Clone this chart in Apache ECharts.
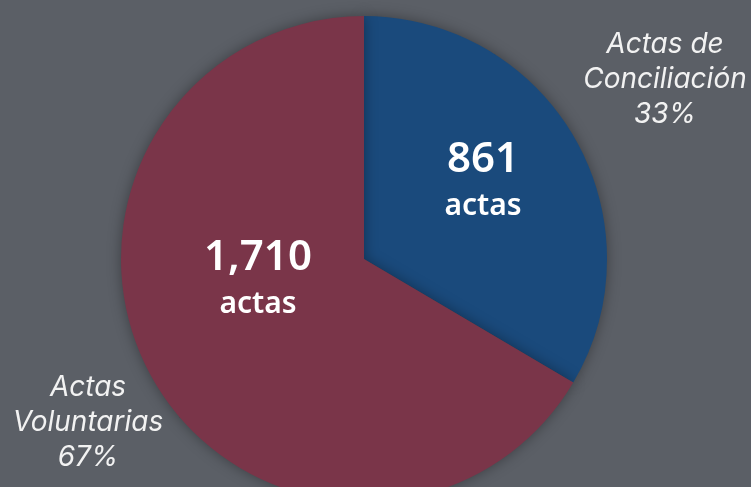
<!DOCTYPE html>
<html>
<head>
<meta charset="utf-8">
<script src="https://cdn.jsdelivr.net/npm/echarts@6/dist/echarts.min.js"></script>
<style>
html, body { margin: 0; padding: 0; background: #5b5f66; }
#main { width: 751px; height: 487px; }
</style>
</head>
<body>
<div id="main"></div>
<script>
// datos
var categorias = ['Actas de\nConciliación', 'Actas\nVoluntarias'];
var valores = [861, 1710];
var valoresTexto = ['861', '1,710'];
var porcentajes = ['33%', '67%'];
var colores = ['#1a4a7c', '#7a3549'];

// posiciones de las etiquetas
var posInterior = [[483, 180], [258, 278]];
var posExterior = [[665, 80], [88, 423]];

var chart = echarts.init(document.getElementById('main'));

var datos = categorias.map(function (c, i) {
	return { name: c, value: valores[i], itemStyle: { color: colores[i] } };
});

var option = {
	backgroundColor: '#5b5f66',
	animation: false,
	series: [{
		type: 'pie',
		center: [364, 259],
		radius: [0, 243],
		startAngle: 90,
		clockwise: true,
		itemStyle: {
			borderWidth: 0,
			shadowBlur: 14,
			shadowColor: 'rgba(0,0,0,0.35)'
		},
		label: {
			show: true,
			position: 'inside',
			formatter: function (p) {
				return '{v|' + valoresTexto[p.dataIndex] + '}\n{a|actas}';
			},
			rich: {
				v: { color: '#fff', fontSize: 42, fontWeight: 600, fontFamily: 'Noto Sans', lineHeight: 52 },
				a: { color: '#fff', fontSize: 30, fontWeight: 600, fontFamily: 'Noto Sans', lineHeight: 40 }
			}
		},
		labelLayout: function (p) {
			var pos = posInterior[p.dataIndex];
			return { x: pos[0], y: pos[1], align: 'center', verticalAlign: 'middle' };
		},
		data: datos
	}, {
		type: 'pie',
		center: [364, 259],
		radius: [0, 243],
		startAngle: 90,
		silent: true,
		itemStyle: { color: 'transparent' },
		label: {
			show: true,
			position: 'inside',
			formatter: function (p) {
				return categorias[p.dataIndex] + '\n' + porcentajes[p.dataIndex];
			},
			color: '#f2f2f2',
			fontSize: 28,
			fontWeight: 'normal',
			fontStyle: 'italic',
			fontFamily: 'Inter',
			lineHeight: 35,
			align: 'center'
		},
		labelLayout: function (p) {
			var pos = posExterior[p.dataIndex];
			return { x: pos[0], y: pos[1], align: 'center', verticalAlign: 'middle' };
		},
		data: categorias.map(function (c, i) {
			return { name: c, value: valores[i] };
		})
	}]
};
chart.setOption(option);
</script>
</body>
</html>
